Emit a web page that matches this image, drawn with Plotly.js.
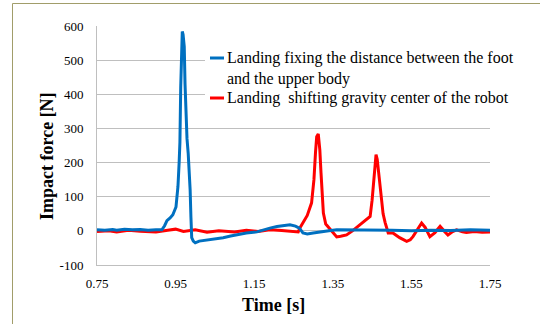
<!DOCTYPE html>
<html>
<head>
<meta charset="utf-8">
<script src="https://cdn.plot.ly/plotly-3.0.1.min.js"></script>
<style>
  html, body { margin: 0; padding: 0; background: #fff; }
  #chart { width: 540px; height: 324px; }
</style>
</head>
<body>
<div id="chart"></div>
<script>
// ---- data ----
const seriesNames = [
  "Landing fixing the distance between the foot<br>and the upper body",
  "Landing  shifting gravity center of the robot"
];

const timeFixed = [0.75, 0.77, 0.79, 0.80, 0.82, 0.84, 0.86, 0.88, 0.90, 0.915,
  0.922, 0.928, 0.936, 0.943, 0.951, 0.956, 0.959, 0.961, 0.963, 0.965,
  0.967, 0.969, 0.972, 0.974, 0.976, 0.979, 0.982, 0.985, 0.987, 0.989,
  0.991, 0.995, 1.000, 1.010, 1.030, 1.050, 1.071, 1.090, 1.110, 1.130,
  1.157, 1.172, 1.190, 1.208, 1.225, 1.241, 1.255, 1.265, 1.274, 1.285,
  1.300, 1.320, 1.340, 1.360, 1.400, 1.450, 1.500, 1.550, 1.600, 1.650,
  1.700, 1.750];
const forceFixed = [3, 2, 4, 2, 5, 3, 4, 2, 3, 3,
  15, 30, 38, 47, 70, 130, 200, 260, 420, 520,
  584, 575, 540, 430, 330, 270, 228, 170, 120, 40,
  -20, -30, -35, -30, -27, -24, -20, -15, -10, -6,
  -3, 3, 8, 13, 15, 18, 14, 8, -6, -9,
  -6, -4, 0, 3, 3, 1, 2, 0, 2, 1,
  3, 2];

const timeShift = [0.75, 0.78, 0.80, 0.83, 0.86, 0.90, 0.93, 0.95, 0.97, 1.00,
  1.03, 1.06, 1.10, 1.13, 1.16, 1.19, 1.22, 1.25, 1.262, 1.267,
  1.274, 1.285, 1.296, 1.302, 1.306, 1.309, 1.313, 1.317, 1.320, 1.322,
  1.326, 1.332, 1.338, 1.345, 1.351, 1.360, 1.370, 1.385, 1.400, 1.410,
  1.425, 1.436, 1.445, 1.450, 1.453, 1.457, 1.460, 1.463, 1.466, 1.470,
  1.474, 1.478, 1.483, 1.491, 1.503, 1.520, 1.538, 1.547, 1.554, 1.565,
  1.576, 1.585, 1.597, 1.610, 1.623, 1.633, 1.643, 1.655, 1.665, 1.680,
  1.690, 1.710, 1.730, 1.750];
const forceShift = [-2, 0, -3, 2, -1, -3, 2, 5, -2, 3,
  -4, 0, -3, 2, -2, 3, 1, -2, -3, 10,
  23, 45, 82, 150, 230, 276, 284, 237, 170, 130,
  52, 20, 12, 2, -6, -18, -16, -12, 0, 9,
  22, 32, 42, 90, 130, 200, 223, 210, 179, 130,
  82, 50, 25, -6, -6, -20, -31, -26, -17, 5,
  23, 10, -17, -5, 13, 0, -12, -2, 3, -3,
  -5, -2, -4, -3];

const xTickVals = [0.75, 0.95, 1.15, 1.35, 1.55, 1.75];
const xTickText = ["0.75", "0.95", "1.15", "1.35", "1.55", "1.75"];
const yTickVals = [-100, 0, 100, 200, 300, 400, 500, 600];
const yTickText = ["-100", "0", "100", "200", "300", "400", "500", "600"];

const xTitle = "Time [s]";
const yTitle = "Impact force [N]";

// ---- styles ----
const BLUE = "#0070c0";
const RED = "#ff0000";
const GRID = "#bfbfbf";
const SERIF = "Liberation Serif, Times New Roman, serif";

const traces = [
  { x: timeShift, y: forceShift, type: "scatter", mode: "lines",
    name: seriesNames[1], line: { color: RED, width: 3 }, showlegend: false },
  { x: timeFixed, y: forceFixed, type: "scatter", mode: "lines",
    name: seriesNames[0], line: { color: BLUE, width: 3 }, showlegend: false }
];

// plot area: x 97..490 px, y 26..265 px
const L = 97, R = 490, T = 26, B = 265;
const px = v => (v - L) / (R - L);
const py = v => (B - v) / (B - T);

const layout = {
  width: 540, height: 324,
  margin: { l: L, r: 540 - R, t: T, b: 324 - B, pad: 0 },
  paper_bgcolor: "#fff", plot_bgcolor: "#fff",
  showlegend: false,
  font: { family: SERIF, size: 13, color: "#000" },
  xaxis: {
    range: [0.75, 1.75], tickvals: xTickVals, ticktext: xTickText,
    showgrid: false, zeroline: false, showline: true, linecolor: GRID, linewidth: 1,
    ticks: "", ticklabelstandoff: 6, tickfont: { family: SERIF, size: 13, color: "#000" }
  },
  yaxis: {
    range: [-100, 600], tickvals: yTickVals, ticktext: yTickText,
    showgrid: true, gridcolor: GRID, gridwidth: 1, zeroline: false,
    showline: true, linecolor: GRID, linewidth: 1,
    ticks: "", ticklabelstandoff: 10, tickfont: { family: SERIF, size: 13, color: "#000" }
  },
  shapes: [
    // outer frame (top and left edges)
    { type: "line", xref: "paper", yref: "paper", x0: px(12.5), x1: px(540), y0: py(3.5), y1: py(3.5),
      line: { color: "#a19d6a", width: 1 } },
    { type: "line", xref: "paper", yref: "paper", x0: px(12.5), x1: px(12.5), y0: py(3.5), y1: py(324),
      line: { color: "#a19d6a", width: 1 } },
    // legend background
    { type: "rect", xref: "paper", yref: "paper", layer: "above",
      x0: px(205), x1: px(524), y0: py(42), y1: py(112),
      fillcolor: "#fff", line: { width: 0 } },
    // legend swatches
    { type: "line", xref: "paper", yref: "paper", layer: "above",
      x0: px(210), x1: px(224), y0: py(58), y1: py(58), line: { color: BLUE, width: 3 } },
    { type: "line", xref: "paper", yref: "paper", layer: "above",
      x0: px(210), x1: px(224), y0: py(98), y1: py(98), line: { color: RED, width: 3 } }
  ],
  annotations: [
    { xref: "paper", yref: "paper", x: px(225), y: py(68), xanchor: "left", yanchor: "middle",
      align: "left", showarrow: false, text: seriesNames[0],
      font: { family: SERIF, size: 16, color: "#000" } },
    { xref: "paper", yref: "paper", x: px(225), y: py(98), xanchor: "left", yanchor: "middle",
      align: "left", showarrow: false, text: seriesNames[1],
      font: { family: SERIF, size: 16, color: "#000" } },
    { xref: "paper", yref: "paper", x: px(273), y: py(305), xanchor: "center", yanchor: "middle",
      showarrow: false, text: "<b>" + xTitle + "</b>",
      font: { family: SERIF, size: 18, color: "#000" } },
    { xref: "paper", yref: "paper", x: px(47), y: py(156), xanchor: "center", yanchor: "middle",
      showarrow: false, textangle: -90, text: "<b>" + yTitle + "</b>",
      font: { family: SERIF, size: 18, color: "#000" } }
  ]
};

Plotly.newPlot("chart", traces, layout, { staticPlot: true, displayModeBar: false });
</script>
</body>
</html>
